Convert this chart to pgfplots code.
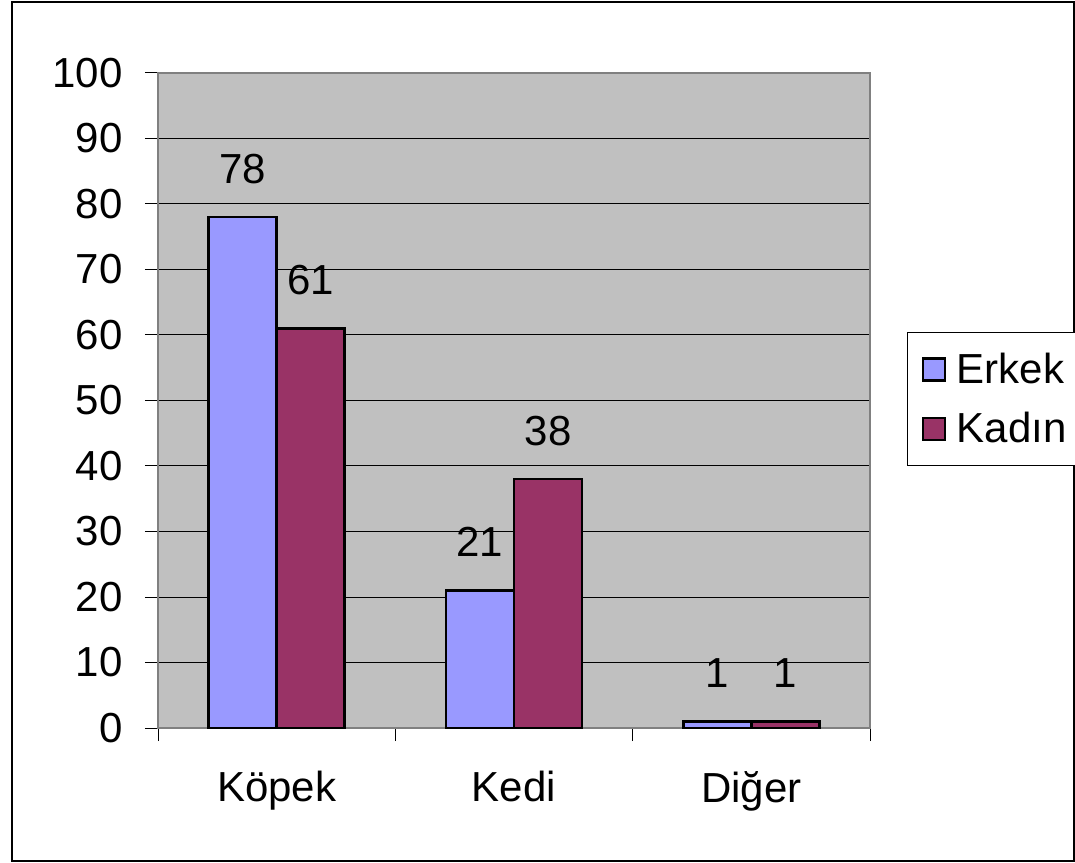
\documentclass[border=0pt]{standalone}
\usepackage{pgfplots}
\pgfplotsset{compat=1.18}
\usepackage{fontspec}
\setmainfont{Liberation Sans}
\definecolor{erkek}{HTML}{9999FF}
\definecolor{kadin}{HTML}{993366}
\definecolor{plotbg}{HTML}{C0C0C0}
\definecolor{axgray}{HTML}{808080}
\begin{document}
\begin{tikzpicture}[x=1pt,y=1pt]
\useasboundingbox (0,0) rectangle (537.5,431);
\draw[black, line width=0.6pt] (6,0.5) rectangle (537,430);
\begin{axis}[
  at={(79pt,67pt)}, anchor=south west,
  scale only axis, width=356pt, height=327.5pt,
  ybar=0pt, bar width=0.287,
  xmin=-0.5, xmax=2.5, ymin=0, ymax=100,
  ytick={0,10,...,100},
  xtick={-0.5,0.5,1.5,2.5}, xticklabels={},
  extra x ticks={0,1,2}, extra x tick labels={Köpek,Kedi,Diğer},
  extra x tick style={major tick length=0pt, grid=none},
  /pgf/number format/assume math mode=true,
  axis background/.style={fill=plotbg},
  axis line style={axgray, line width=1pt},
  ymajorgrids, major grid style={black, line width=0.5pt},
  tick style={black, line width=0.5pt},
  tick align=outside, major tick length=6.5pt,
  xtick pos=bottom, ytick pos=left,
  every tick label/.append style={font=\fontsize{21}{25}\selectfont},
  yticklabel style={inner sep=0pt, xshift=-11pt},
  xticklabel style={yshift=-18pt},
  nodes near coords,
  every node near coord/.append style={font=\fontsize{21}{25}\selectfont, anchor=base, inner sep=0pt, yshift=17pt, black},
  legend style={at={(1.052,0.502)}, anchor=west, draw=black, line width=0.5pt,
    font=\fontsize{21}{25}\selectfont, row sep=9pt, inner xsep=7pt, inner ysep=8pt},
  legend cell align=left,
  legend image code/.code={\draw[#1] (0pt,-5.5pt) rectangle (11pt,5.5pt); \path[draw=none,fill=none] (0pt,0pt) -- (15pt,0pt);},
]
\addplot[fill=erkek, draw=black, line width=1.3pt] coordinates {(0,78) (1,21) (2,1)};
\addplot[fill=kadin, draw=black, line width=1.3pt] coordinates {(0,61) (1,38) (2,1)};
\legend{Erkek, Kadın}
\end{axis}
\end{tikzpicture}
\end{document}
